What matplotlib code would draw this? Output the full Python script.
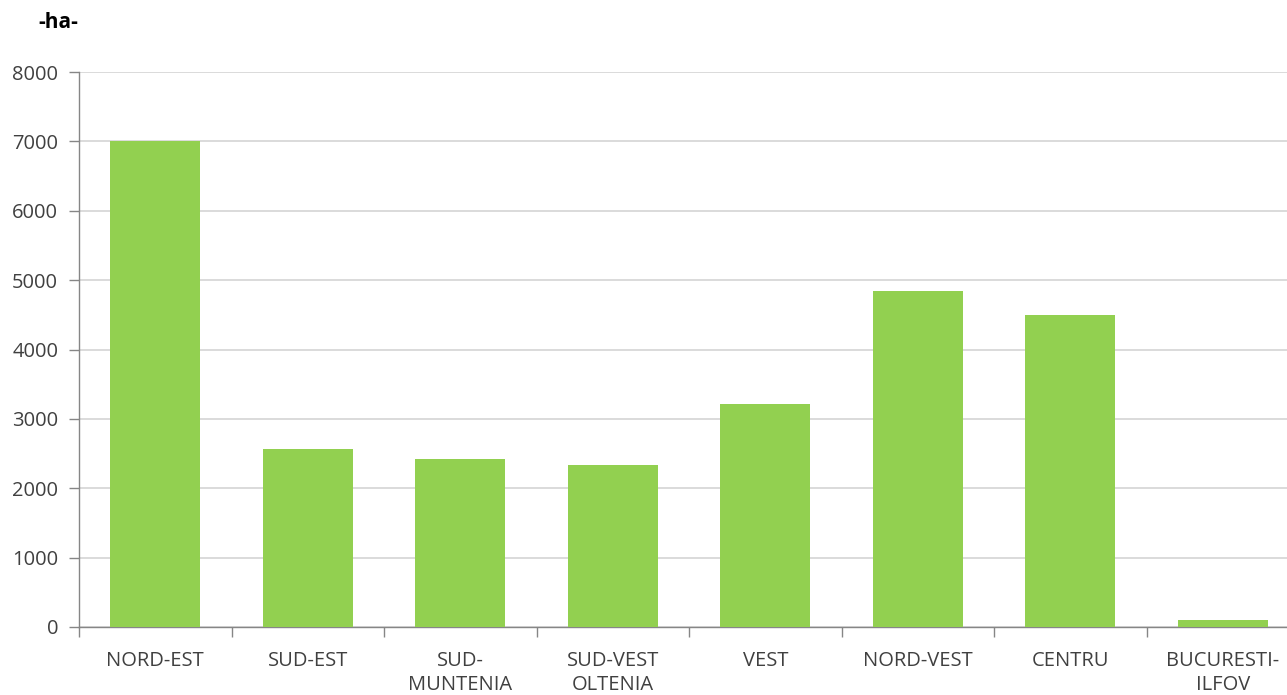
import matplotlib
matplotlib.use("Agg")
import matplotlib.pyplot as plt
import numpy as np

categories = ["NORD-EST", "SUD-EST", "SUD-\nMUNTENIA", "SUD-VEST\nOLTENIA", "VEST",
              "NORD-VEST", "CENTRU", "BUCURESTI-\nILFOV"]
values = [7000, 2565, 2420, 2335, 3215, 4840, 4495, 100]
yticks = [0, 1000, 2000, 3000, 4000, 5000, 6000, 7000, 8000]

plt.rcParams['font.family'] = ['Open Sans', 'DejaVu Sans']

fig = plt.figure(figsize=(12.87, 6.95), dpi=100)
ax = fig.add_axes([79/1287, 1-627/695, 1220/1287, (627-72)/695])

x = np.arange(len(categories))
ax.bar(x, values, width=0.59, color="#92D050", zorder=3)

ax.set_xlim(-0.5, len(categories)-0.5)
ax.set_ylim(0, 8000)
ax.set_yticks(yticks)
ax.set_yticklabels([str(v) for v in yticks], fontsize=14.5, color="#404040")
ax.yaxis.grid(True, color="#d4d4d4", linewidth=1.2, linestyle='-', zorder=0)

ax.set_xticks(x)
ax.set_xticklabels(categories, fontsize=14.5, color="#404040", linespacing=1.3)
ax.tick_params(axis='x', which='major', length=0, pad=17)
ax.set_xticks(np.arange(-0.5, len(categories), 1.0), minor=True)
ax.tick_params(axis='x', which='minor', length=7, color="#868686", width=1)
ax.tick_params(axis='y', length=7, color="#868686", width=1, pad=8)

for s in ['top', 'right']:
    ax.spines[s].set_visible(False)
for s in ['left', 'bottom']:
    ax.spines[s].set_color("#868686")
    ax.spines[s].set_linewidth(1)

fig.text(38/1287, 1-22/695, "-ha-", fontsize=15, fontweight='bold', ha='left', va='center', color="#000000")

fig.savefig("out.png", dpi=100)
